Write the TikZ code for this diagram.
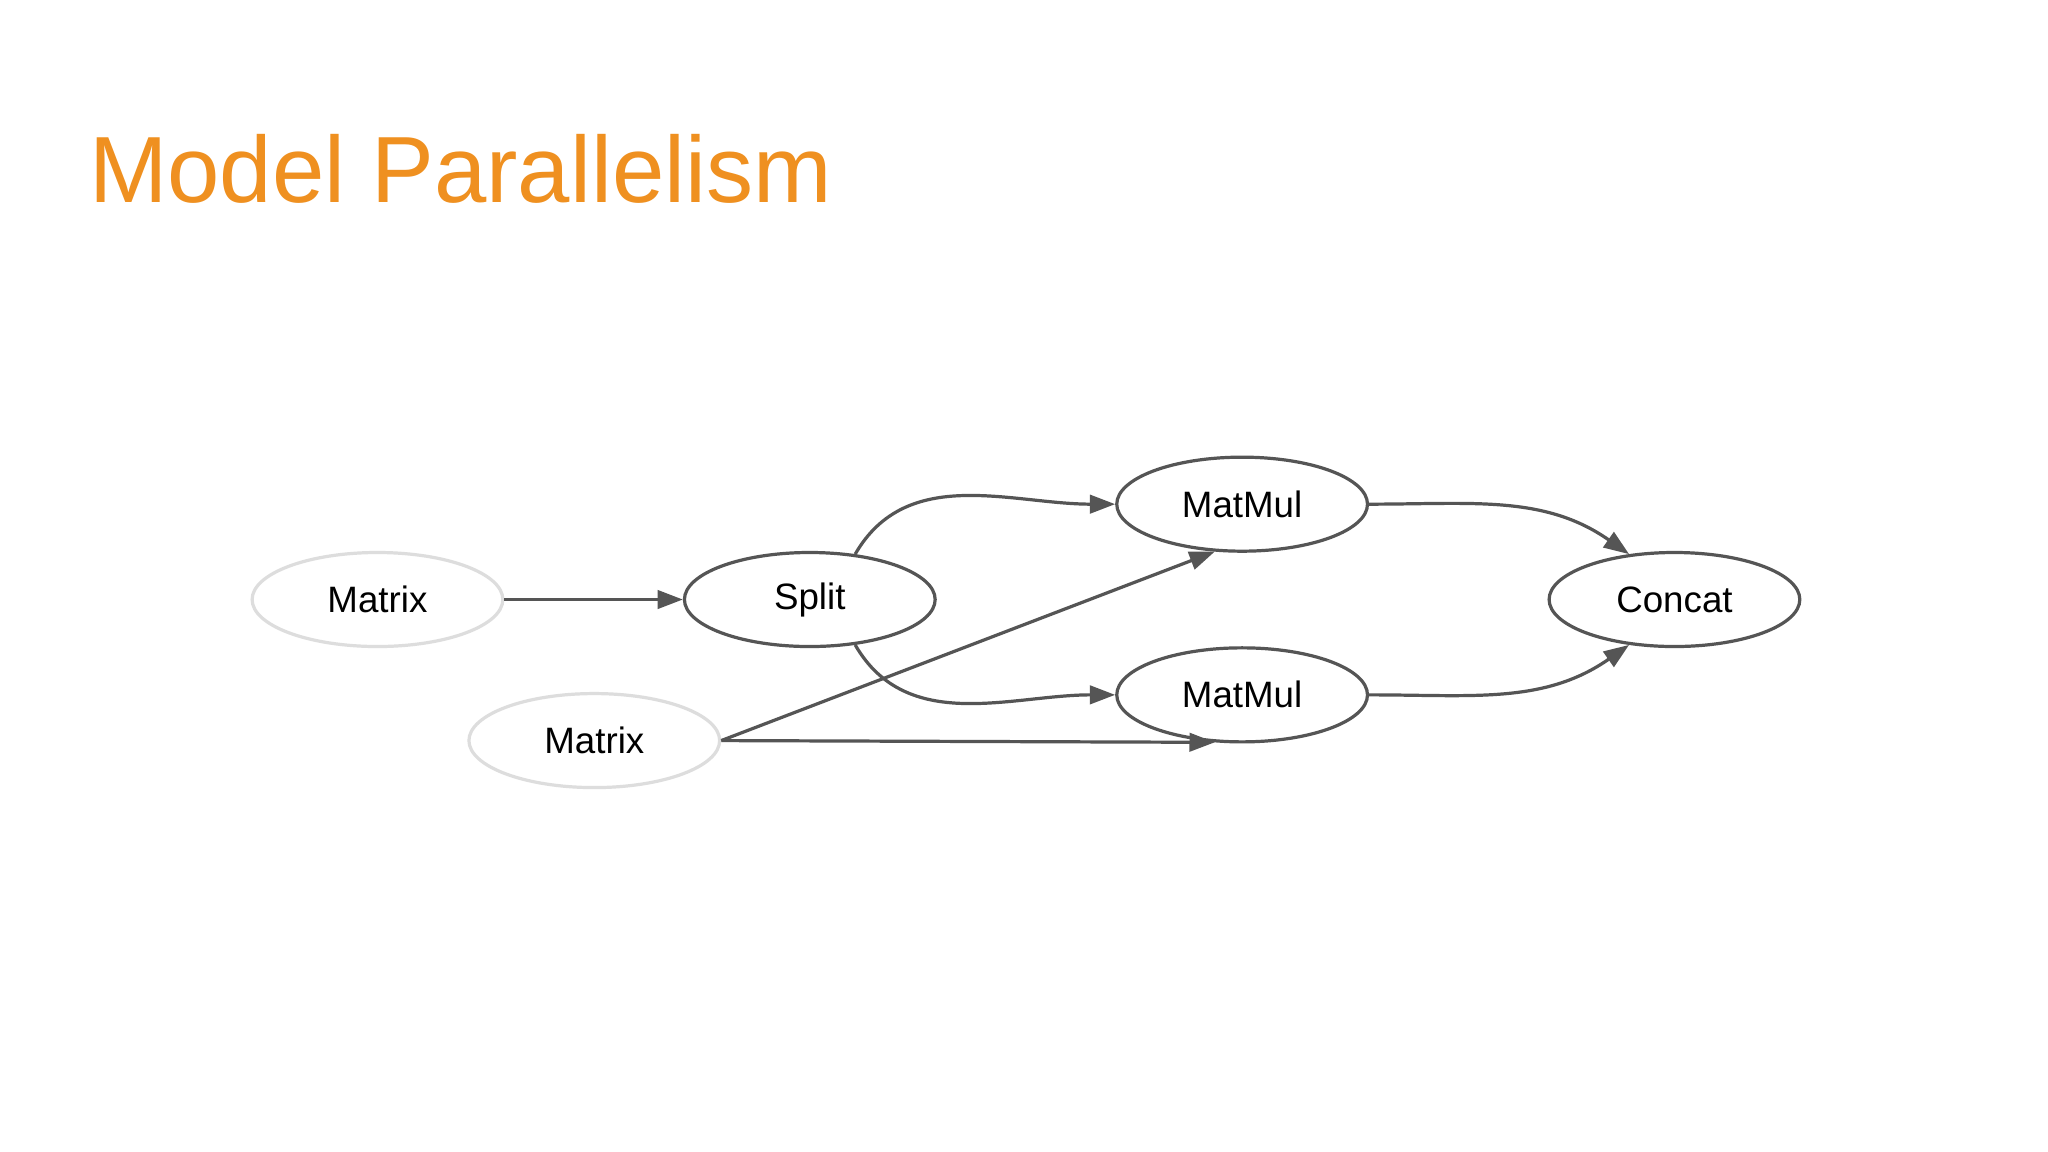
\documentclass[tikz,border=0pt]{standalone}
\usepackage{fontspec}
\setmainfont{Liberation Sans}
\usetikzlibrary{shapes.geometric,arrows.meta}
\definecolor{edge}{HTML}{555555}
\definecolor{lite}{HTML}{DDDDDD}
\definecolor{orng}{HTML}{EF9020}
\begin{document}
\begin{tikzpicture}[x=0.02cm,y=-0.02cm,
  op/.style={ellipse,draw=edge,line width=1.4pt,minimum width=3.84cm,minimum height=1.44cm,inner sep=0pt,font=\fontsize{16}{18}\selectfont},
  inp/.style={op,draw=lite},
  arr/.style={draw=edge,line width=1.4pt,-{Triangle[length=11pt,width=8pt]}}]
\fill[white] (0,0) rectangle (1568,882);
\node[anchor=base west,text=orng,font=\fontsize{41}{46}\selectfont,inner sep=0pt] (title) at (68,155) {Model Parallelism};
\node[inp] (m1) at (289,459) {Matrix};
\node[op] (sp) at (620,459) {Split};
\node[inp] (m2) at (455,567) {Matrix};
\node[op] (mm1) at (951,386) {MatMul};
\node[op] (mm2) at (951,532) {MatMul};
\node[op] (cc) at (1282,459) {Concat};
\draw[arr] (m1.east) -- (sp.west);
\draw[arr] (sp.45) to[out=60,in=180] (mm1.west);
\draw[arr] (sp.-45) to[out=-60,in=180] (mm2.west);
\draw[arr] (mm1.east) to[out=0,in=145] (cc.135);
\draw[arr] (mm2.east) to[out=0,in=-145] (cc.-135);
\draw[arr] (m2.east) -- (mm1.-120);
\draw[arr] (m2.east) -- (mm2.-120);
\end{tikzpicture}
\end{document}
